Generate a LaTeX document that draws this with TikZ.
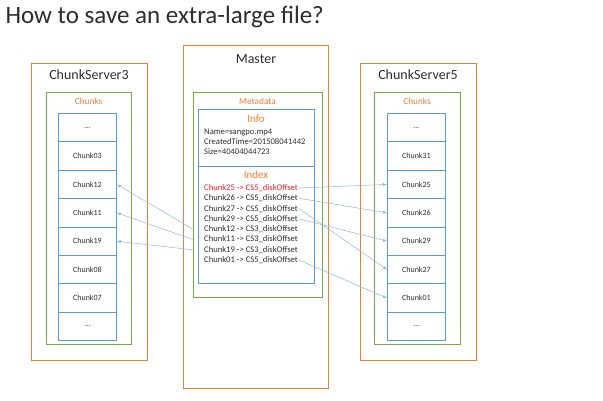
\documentclass[tikz,border=0pt]{standalone}
\usepackage{fontspec}
\setmainfont{Carlito}
\usetikzlibrary{arrows.meta}
\definecolor{boxorange}{RGB}{237,125,49}
\definecolor{boxgreen}{RGB}{112,173,71}
\definecolor{boxblue}{RGB}{91,155,213}
\definecolor{linkblue}{RGB}{140,180,225}
\definecolor{txtgray}{RGB}{45,45,45}
\definecolor{hotred}{RGB}{230,30,40}

\begin{document}
\begin{tikzpicture}[x=1pt,y=-1pt,
    server/.style={draw=boxorange, line width=0.8pt, anchor=north west, inner sep=0pt},
    group/.style={draw=boxgreen, line width=0.8pt, anchor=north west, inner sep=0pt},
    meta/.style={draw=boxblue, line width=0.8pt, anchor=north west, inner sep=0pt},
    cell/.style={draw=boxblue, line width=0.8pt, anchor=north west, inner sep=0pt,
                 minimum width=58pt, minimum height=28.4pt, text=txtgray,
                 font=\fontsize{8}{9}\selectfont},
    title/.style={text=txtgray, font=\fontsize{14}{16}\selectfont},
    small/.style={text=boxorange, font=\fontsize{9.3}{10}\selectfont},
    head/.style={text=boxorange, font=\fontsize{11}{12}\selectfont},
    entry/.style={anchor=west, inner sep=1pt, text=txtgray, font=\fontsize{8.6}{9}\selectfont},
    link/.style={draw=linkblue, line width=0.5pt, -{Latex[length=4pt,width=3pt]}}]
    \useasboundingbox (0,0) rectangle (603,400);
    \node[anchor=west, text=txtgray, font=\fontsize{25}{28}\selectfont] (heading) at (2,17) {How to save an extra-large file?};

    % ChunkServer3
    \node[server, minimum width=116pt, minimum height=297pt] (cs3) at (31,63) {};
    \node[title] (cs3label) at (89,75) {ChunkServer3};
    \node[group, minimum width=85pt, minimum height=252pt] (cs3chunks) at (46,92) {};
    \node[small] (cs3chunkslabel) at (88.5,101) {Chunks};
    \foreach \t [count=\i] in {\ldots, Chunk03, Chunk12, Chunk11, Chunk19, Chunk08, Chunk07, \ldots}
        \node[cell] (l\i) at (58,{113+28.4*(\i-1)}) {\t};

    % Master
    \node[server, minimum width=145pt, minimum height=343pt] (master) at (183,45) {};
    \node[title] (masterlabel) at (256,59) {Master};
    \node[group, minimum width=129pt, minimum height=205pt] (metadata) at (193,92) {};
    \node[small] (metadatalabel) at (257.5,101) {Metadata};
    \node[meta, minimum width=116pt, minimum height=57pt] (info) at (198,109) {};
    \node[meta, minimum width=116pt, minimum height=117pt] (index) at (198,166) {};
    \node[head] (infolabel) at (256,119) {Info};
    \node[entry] (name) at (203,132) {Name=sangpo.mp4};
    \node[entry] (created) at (203,142) {CreatedTime=201508041442};
    \node[entry] (size) at (203,152) {Size=40404044723};
    \node[head] (indexlabel) at (256,175) {Index};
    \node[entry, text=hotred] (ix1) at (203,188) {Chunk25 -> CS5\_diskOffset};
    \node[entry] (ix2) at (203,198.3) {Chunk26 -> CS5\_diskOffset};
    \node[entry] (ix3) at (203,208.6) {Chunk27 -> CS5\_diskOffset};
    \node[entry] (ix4) at (203,218.9) {Chunk29 -> CS5\_diskOffset};
    \node[entry] (ix5) at (203,229.2) {Chunk12 -> CS3\_diskOffset};
    \node[entry] (ix6) at (203,239.5) {Chunk11 -> CS3\_diskOffset};
    \node[entry] (ix7) at (203,249.8) {Chunk19 -> CS3\_diskOffset};
    \node[entry] (ix8) at (203,260.1) {Chunk01 -> CS5\_diskOffset};

    % ChunkServer5
    \node[server, minimum width=116pt, minimum height=297pt] (cs5) at (360,63) {};
    \node[title] (cs5label) at (418,75) {ChunkServer5};
    \node[group, minimum width=86pt, minimum height=252pt] (cs5chunks) at (374,92) {};
    \node[small] (cs5chunkslabel) at (417,101) {Chunks};
    \foreach \t [count=\i] in {\ldots, Chunk31, Chunk25, Chunk26, Chunk29, Chunk27, Chunk01, \ldots}
        \node[cell] (r\i) at (387,{113+28.4*(\i-1)}) {\t};

    % links
    \draw[link] (ix1.east) -- (r3.west);
    \draw[link] (ix2.east) -- (r4.west);
    \draw[link] (ix3.east) -- (r6.west);
    \draw[link] (ix4.east) -- (r5.west);
    \draw[link] (ix8.east) -- (r7.west);
    \draw[link] (metadata.west |- ix5.west) -- (l3.east);
    \draw[link] (metadata.west |- ix6.west) -- (l4.east);
    \draw[link] (metadata.west |- ix7.west) -- (l5.east);
\end{tikzpicture}
\end{document}
